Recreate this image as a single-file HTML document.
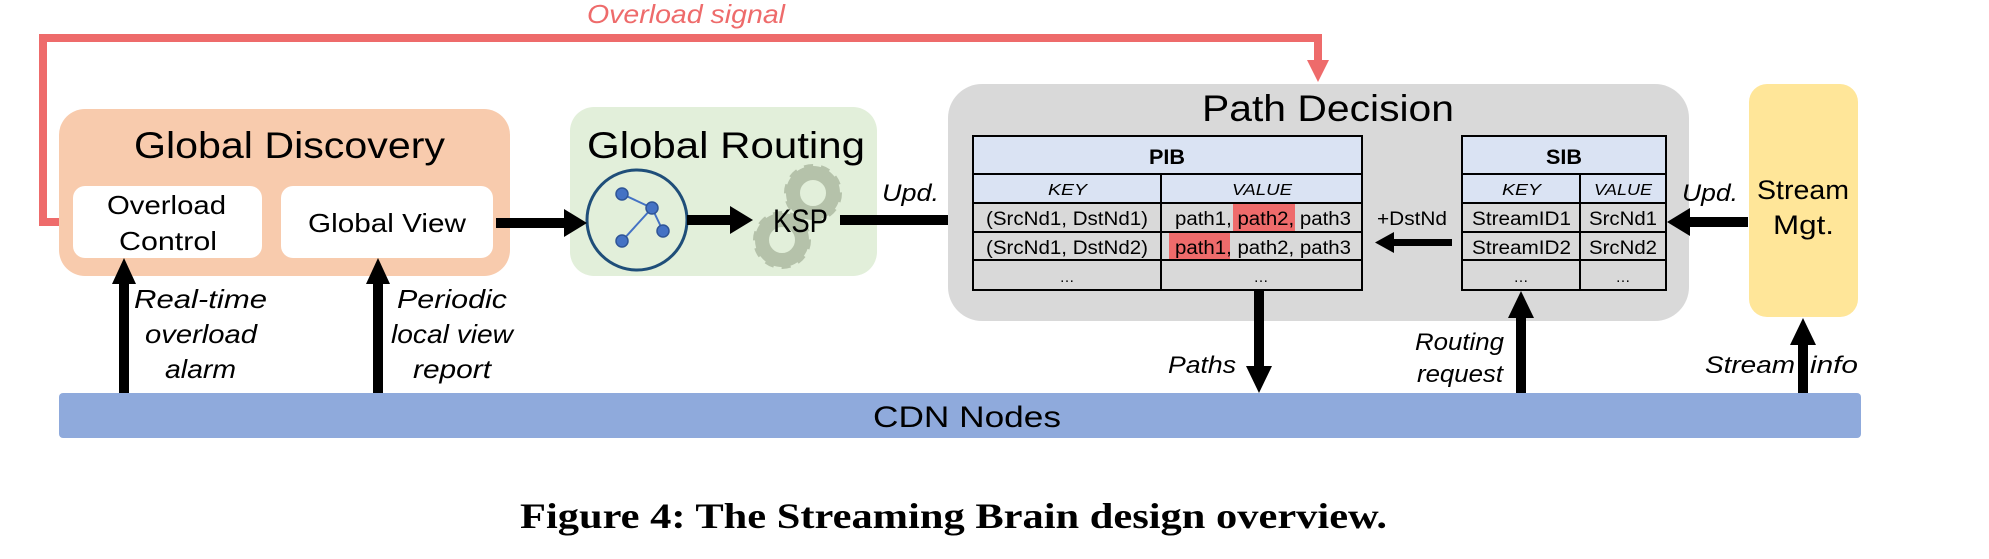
<!DOCTYPE html>
<html><head><meta charset="utf-8"><style>
html,body{margin:0;padding:0;background:#fff;}
svg{display:block;}
text{font-family:"Liberation Sans",sans-serif;}
</style></head><body>
<svg width="1989" height="559" viewBox="0 0 1989 559" xmlns="http://www.w3.org/2000/svg">
<defs>
<g id="gear">
<circle r="20" fill="none" stroke="#b5c2aa" stroke-width="14"/>
<circle r="24" fill="none" stroke="#b5c2aa" stroke-width="10" stroke-dasharray="8 7"/>
</g>
</defs>
<!-- Overload signal -->
<text x="587" y="23" font-size="26" font-style="italic" fill="#ee6b6b" textLength="198" lengthAdjust="spacingAndGlyphs">Overload signal</text>
<polyline points="73,222 43,222 43,38 1318,38 1318,62" fill="none" stroke="#ee6b6b" stroke-width="8"/>
<polygon points="1307,60 1329,60 1318,82" fill="#ee6b6b"/>

<!-- Global Discovery -->
<rect x="59" y="109" width="451" height="167" rx="26" fill="#f8cbad"/>
<text x="134" y="158" font-size="37" textLength="311" lengthAdjust="spacingAndGlyphs">Global Discovery</text>
<rect x="73" y="186" width="189" height="72" rx="12" fill="#fff"/>
<text x="107" y="214" font-size="26" textLength="119" lengthAdjust="spacingAndGlyphs">Overload</text>
<text x="119" y="250" font-size="26" textLength="98" lengthAdjust="spacingAndGlyphs">Control</text>
<rect x="281" y="186" width="212" height="72" rx="12" fill="#fff"/>
<text x="308" y="232" font-size="26" textLength="158" lengthAdjust="spacingAndGlyphs">Global View</text>

<!-- Global Routing -->
<rect x="570" y="107" width="307" height="169" rx="24" fill="#e2efda"/>
<text x="587" y="158" font-size="37" textLength="278" lengthAdjust="spacingAndGlyphs">Global Routing</text>
<circle cx="637" cy="220" r="50" fill="none" stroke="#1f4e79" stroke-width="3"/>
<g stroke="#4472c4" stroke-width="2"><line x1="622" y1="194" x2="652" y2="208"/><line x1="652" y1="208" x2="663" y2="231"/><line x1="652" y1="208" x2="622" y2="241"/></g>
<g fill="#4472c4" stroke="#2f5597" stroke-width="1.5"><circle cx="622" cy="194" r="6"/><circle cx="652" cy="208" r="6"/><circle cx="663" cy="231" r="6"/><circle cx="622" cy="241" r="6"/></g>
<use href="#gear" x="813" y="193"/>
<use href="#gear" x="782" y="240"/>
<text x="773" y="232" font-size="32" textLength="55" lengthAdjust="spacingAndGlyphs">KSP</text>

<rect x="496" y="218" width="70" height="10" fill="#000"/><polygon points="564,209 587,223 564,237" fill="#000"/>
<rect x="687" y="215" width="45" height="10" fill="#000"/><polygon points="730,206 753,220 730,234" fill="#000"/>
<rect x="840" y="215" width="112" height="10" fill="#000"/><polygon points="950,206 973,220 950,234" fill="#000"/>
<text x="882" y="201" font-size="24" font-style="italic" textLength="57" lengthAdjust="spacingAndGlyphs">Upd.</text>

<!-- Path Decision -->
<rect x="948" y="84" width="741" height="237" rx="34" fill="#d9d9d9"/>
<text x="1202" y="121" font-size="37" textLength="252" lengthAdjust="spacingAndGlyphs">Path Decision</text>
<rect x="973" y="136" width="389" height="67" fill="#dae3f3"/>
<g stroke="#000" stroke-width="2" fill="none">
<rect x="973" y="136" width="389" height="154"/>
<line x1="973" y1="174" x2="1362" y2="174"/><line x1="973" y1="203" x2="1362" y2="203"/>
<line x1="973" y1="232" x2="1362" y2="232"/><line x1="973" y1="260" x2="1362" y2="260"/>
<line x1="1161" y1="174" x2="1161" y2="290"/>
</g>
<rect x="1233" y="204" width="62" height="27" fill="#ee6b6b"/>
<rect x="1169" y="233" width="61" height="26" fill="#ee6b6b"/>
<text x="1149" y="164" font-size="21" font-weight="bold" textLength="36" lengthAdjust="spacingAndGlyphs">PIB</text>
<text x="1048" y="195" font-size="16" font-style="italic" textLength="39" lengthAdjust="spacingAndGlyphs">KEY</text>
<text x="1232" y="195" font-size="16" font-style="italic" textLength="60" lengthAdjust="spacingAndGlyphs">VALUE</text>
<text x="986" y="225" font-size="19" textLength="162" lengthAdjust="spacingAndGlyphs">(SrcNd1, DstNd1)</text>
<text x="986" y="254" font-size="19" textLength="162" lengthAdjust="spacingAndGlyphs">(SrcNd1, DstNd2)</text>
<text x="1175" y="225" font-size="19" textLength="176" lengthAdjust="spacingAndGlyphs">path1, path2, path3</text>
<text x="1175" y="254" font-size="19" textLength="176" lengthAdjust="spacingAndGlyphs">path1, path2, path3</text>
<text x="1067" y="282" font-size="15" text-anchor="middle">…</text>
<text x="1261" y="282" font-size="15" text-anchor="middle">…</text>
<rect x="1462" y="136" width="204" height="67" fill="#dae3f3"/>
<g stroke="#000" stroke-width="2" fill="none">
<rect x="1462" y="136" width="204" height="154"/>
<line x1="1462" y1="174" x2="1666" y2="174"/><line x1="1462" y1="203" x2="1666" y2="203"/>
<line x1="1462" y1="232" x2="1666" y2="232"/><line x1="1462" y1="260" x2="1666" y2="260"/>
<line x1="1580" y1="174" x2="1580" y2="290"/>
</g>
<text x="1546" y="164" font-size="21" font-weight="bold" textLength="36" lengthAdjust="spacingAndGlyphs">SIB</text>
<text x="1502" y="195" font-size="16" font-style="italic" textLength="39" lengthAdjust="spacingAndGlyphs">KEY</text>
<text x="1594" y="195" font-size="16" font-style="italic" textLength="58" lengthAdjust="spacingAndGlyphs">VALUE</text>
<text x="1472" y="225" font-size="19" textLength="99" lengthAdjust="spacingAndGlyphs">StreamID1</text>
<text x="1472" y="254" font-size="19" textLength="99" lengthAdjust="spacingAndGlyphs">StreamID2</text>
<text x="1589" y="225" font-size="19" textLength="68" lengthAdjust="spacingAndGlyphs">SrcNd1</text>
<text x="1589" y="254" font-size="19" textLength="68" lengthAdjust="spacingAndGlyphs">SrcNd2</text>
<text x="1521" y="282" font-size="15" text-anchor="middle">…</text>
<text x="1623" y="282" font-size="15" text-anchor="middle">…</text>
<text x="1377" y="225" font-size="19" textLength="70" lengthAdjust="spacingAndGlyphs">+DstNd</text>
<rect x="1392" y="239" width="60" height="7" fill="#000"/><polygon points="1394,232 1375,242.5 1394,253" fill="#000"/>

<!-- Stream Mgt -->
<rect x="1749" y="84" width="109" height="233" rx="18" fill="#ffe699"/>
<text x="1757" y="199" font-size="27" textLength="92" lengthAdjust="spacingAndGlyphs">Stream</text>
<text x="1773" y="234" font-size="27" textLength="61" lengthAdjust="spacingAndGlyphs">Mgt.</text>
<rect x="1688" y="217" width="60" height="10" fill="#000"/><polygon points="1690,208 1667,222 1690,236" fill="#000"/>
<text x="1682" y="201" font-size="24" font-style="italic" textLength="56" lengthAdjust="spacingAndGlyphs">Upd.</text>

<!-- CDN bar -->
<rect x="59" y="393" width="1802" height="45" rx="4" fill="#8faadc"/>
<text x="873" y="427" font-size="30" textLength="188" lengthAdjust="spacingAndGlyphs">CDN Nodes</text>

<!-- vertical arrows -->
<rect x="119" y="280" width="10" height="113" fill="#000"/><polygon points="112,284 124,258 136,284" fill="#000"/>
<rect x="373" y="280" width="10" height="113" fill="#000"/><polygon points="366,284 378,258 390,284" fill="#000"/>
<rect x="1254" y="290" width="10" height="78" fill="#000"/><polygon points="1246,366 1259,393 1272,366" fill="#000"/>
<rect x="1516" y="316" width="10" height="77" fill="#000"/><polygon points="1508,318 1521,291 1534,318" fill="#000"/>
<rect x="1798" y="343" width="10" height="50" fill="#000"/><polygon points="1790,345 1803,318 1816,345" fill="#000"/>

<!-- labels -->
<g font-size="26" font-style="italic">
<text x="134" y="308" textLength="133" lengthAdjust="spacingAndGlyphs">Real-time</text>
<text x="145" y="343" textLength="112" lengthAdjust="spacingAndGlyphs">overload</text>
<text x="165" y="378" textLength="71" lengthAdjust="spacingAndGlyphs">alarm</text>
<text x="397" y="308" textLength="110" lengthAdjust="spacingAndGlyphs">Periodic</text>
<text x="391" y="343" textLength="122" lengthAdjust="spacingAndGlyphs">local view</text>
<text x="413" y="378" textLength="78" lengthAdjust="spacingAndGlyphs">report</text>
</g>
<g font-size="24" font-style="italic">
<text x="1168" y="373" textLength="68" lengthAdjust="spacingAndGlyphs">Paths</text>
<text x="1415" y="350" textLength="89" lengthAdjust="spacingAndGlyphs">Routing</text>
<text x="1417" y="382" textLength="86" lengthAdjust="spacingAndGlyphs">request</text>
<text x="1705" y="373" textLength="90" lengthAdjust="spacingAndGlyphs">Stream</text>
<text x="1810" y="373" textLength="48" lengthAdjust="spacingAndGlyphs">info</text>
</g>

<!-- caption -->
<text x="520" y="528" font-weight="bold" font-size="36" textLength="867" lengthAdjust="spacingAndGlyphs" style="font-family:'Liberation Serif',serif">Figure 4: The Streaming Brain design overview.</text>
</svg>
</body></html>
